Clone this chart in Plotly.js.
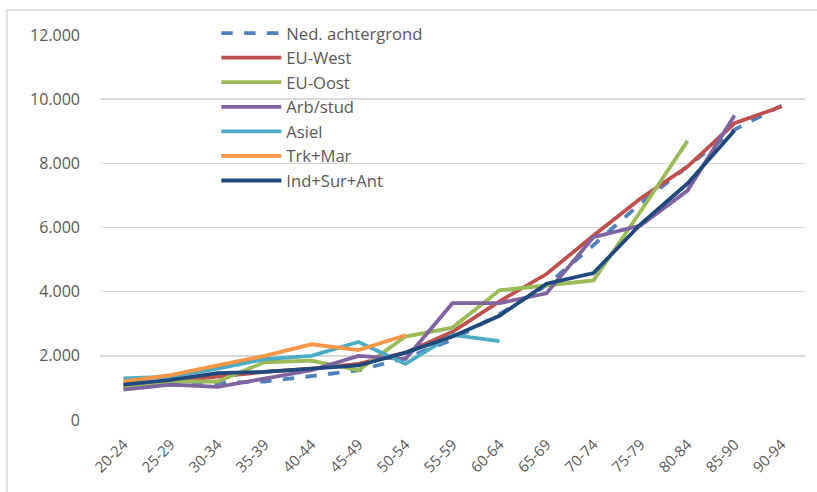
<!DOCTYPE html>
<html><head><meta charset="utf-8">
<script src="https://cdn.plot.ly/plotly-3.0.1.min.js"></script>
<style>body{margin:0;background:#fff}#chart{width:817px;height:492px}</style>
</head><body><div id="chart"></div>
<script>
const categories = ["20-24","25-29","30-34","35-39","40-44","45-49","50-54","55-59","60-64","65-69","70-74","75-79","80-84","85-90","90-94"];
const nedAchtergrond = [1000,1090,1150,1200,1370,1550,1930,2500,3300,4200,5450,6750,7900,9050,9800];
const euWest = [1100,1200,1350,1500,1600,1750,2100,2750,3700,4550,5750,6900,7900,9250,9770];
const euOost = [1050,1200,1200,1800,1850,1550,2600,2880,4040,4200,4350,6500,8700,null,null];
const arbStud = [950,1100,1030,1300,1550,2000,1900,3640,3640,3950,5700,6060,7150,9490,null];
const asiel = [1300,1350,1600,1900,2000,2430,1750,2650,2460,null,null,null,null,null,null];
const trkMar = [1200,1400,1700,2000,2360,2180,2640,null,null,null,null,null,null,null,null];
const indSurAnt = [1100,1250,1460,1500,1600,1700,2100,2600,3250,4250,4580,6100,7370,9020,null];

const names = ["Ned. achtergrond","EU-West","EU-Oost","Arb/stud","Asiel","Trk+Mar","Ind+Sur+Ant"];
const series = [nedAchtergrond, euWest, euOost, arbStud, asiel, trkMar, indSurAnt];
const colors = ["#4f81bd","#c0504d","#9bbb59","#8064a2","#4bacc6","#f79646","#1f497d"];

const traces = series.map((ys, i) => ({
  type: "scatter", mode: "lines", name: names[i], x: categories, y: ys,
  line: {color: colors[i], width: 3.8, dash: i === 0 ? "dash" : "solid"},
  connectgaps: false
}));

const font = {family: "Open Sans, Liberation Sans, sans-serif", size: 14, color: "#595959"};
const layout = {
  width: 817, height: 492,
  margin: {l: 100, r: 11.5, t: 35, b: 72},
  separators: ",.",
  paper_bgcolor: "#fff", plot_bgcolor: "#fff",
  font: font,
  showlegend: true,
  legend: {x: 0.165, y: 1.05, xanchor: "left", yanchor: "top", bgcolor: "rgba(0,0,0,0)",
    font: {family: font.family, size: 16.6, color: "#595959"}, itemwidth: 60, tracegroupgap: 0},
  xaxis: {type: "category", tickangle: -45, showgrid: false, zeroline: false, showline: false,
    ticks: "outside", ticklen: 9, tickcolor: "rgba(0,0,0,0)",
    tickfont: {family: font.family, size: 15, color: "#595959"}, range: [-0.5, 14.5]},
  yaxis: {range: [0, 12000], dtick: 2000, tickformat: ",d", gridcolor: "#d9d9d9", gridwidth: 1.5,
    zeroline: false, showline: false, ticks: "", ticklabelstandoff: 19,
    tickfont: {family: font.family, size: 16, color: "#595959"}},
  shapes: [{type: "rect", xref: "paper", yref: "paper", x0: -0.132, x1: 1.03, y0: -0.25, y1: 1.065,
    line: {color: "#d9d9d9", width: 1.5}, fillcolor: "rgba(0,0,0,0)", layer: "below"}]
};
Plotly.newPlot("chart", traces, layout, {displayModeBar: false, staticPlot: true});
</script></body></html>
